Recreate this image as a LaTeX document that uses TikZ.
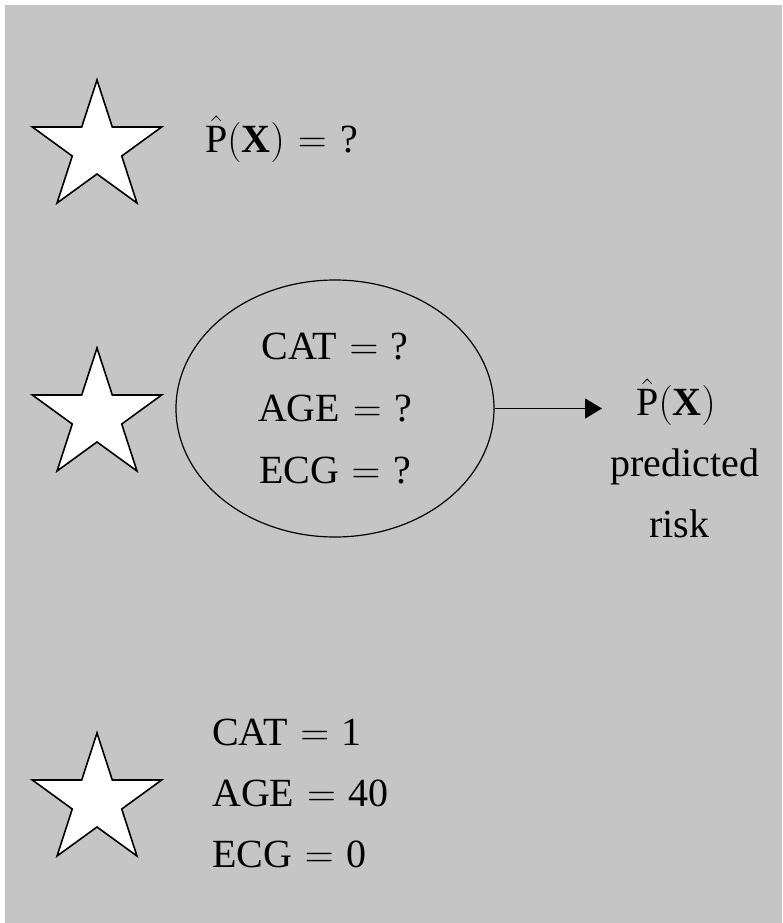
\documentclass[tikz,border=0pt]{standalone}
\usepackage{fix-cm}
\usepackage{fontspec}
\setmainfont{Liberation Serif}
\usetikzlibrary{shapes.geometric,arrows.meta}
\definecolor{bggray}{RGB}{196,197,196}
\newcommand\mystar[2]{%
  \draw[starshape,shift={(#1,#2)}] (-90:68) -- (-54:26) -- (-18:68) -- (18:26) -- (54:68) -- (90:26) -- (126:68) -- (162:26) -- (198:68) -- (234:26) -- cycle;}
\newcommand\eq{\hspace{1.5pt}${}={}$\hspace{1.5pt}}
\begin{document}
\begin{tikzpicture}[x=1pt,y=-1pt,
  lbl/.style={font=\fontsize{40}{62}\selectfont, inner sep=0pt, anchor=base},
  starshape/.style={fill=white, draw=black, line width=1.6pt, line join=miter}]
\useasboundingbox (0,0) rectangle (782,923);
\fill[white] (0,0) rectangle (782,923);
\fill[bggray] (5,5) rectangle (782,923);
% stars
\mystar{97}{148}
\mystar{97}{416}
\mystar{97}{801}
% top formula
\node[lbl, anchor=base west] (q) at (205,152) {$\hat{\mathrm{P}}(\mathbf{X})\mkern1mu=\mkern1mu\mbox{?}$};
% ellipse
\node[draw, ellipse, line width=1.2pt, minimum width=318pt, minimum height=257pt,
      inner sep=0pt, align=center, font=\fontsize{40}{62}\selectfont] (ell) at (335,408.5)
      {CAT\eq?\\AGE\eq?\\ECG\eq?};
\coordinate (tip) at (602,408.5);
\draw[line width=1.2pt, -{Triangle[length=17pt,width=20pt]}] (ell.east) -- (tip);
% right labels
\node[lbl] (phat) at (676,415) {$\hat{\mathrm{P}}(\mathbf{X})$};
\node[lbl] (pred) at (685,476) {predicted};
\node[lbl] (risk) at (679,537) {risk};
% bottom labels
\node[lbl, anchor=base west] (c1) at (212,745) {CAT\eq1};
\node[lbl, anchor=base west] (c2) at (212,806) {AGE\eq40};
\node[lbl, anchor=base west] (c3) at (212,867) {ECG\eq0};
\end{tikzpicture}
\end{document}
